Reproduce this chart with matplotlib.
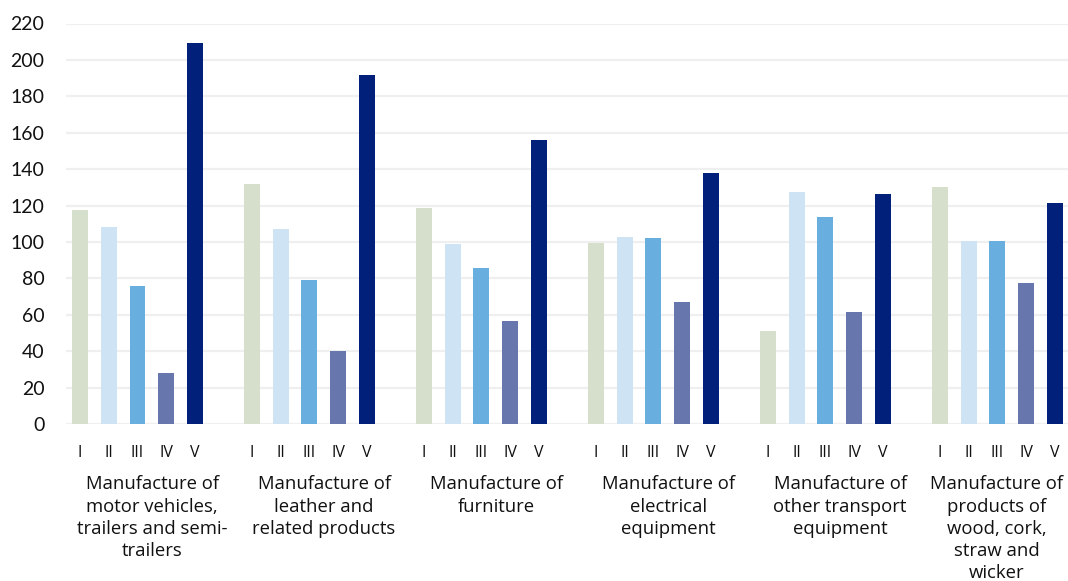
import matplotlib
matplotlib.use("Agg")
import matplotlib.pyplot as plt
import numpy as np

categories = [
    "Manufacture of\nmotor vehicles,\ntrailers and semi-\ntrailers",
    "Manufacture of\nleather and\nrelated products",
    "Manufacture of\nfurniture",
    "Manufacture of\nelectrical\nequipment",
    "Manufacture of\nother transport\nequipment",
    "Manufacture of\nproducts of\nwood, cork,\nstraw and\nwicker",
]
series_labels = ["I", "II", "III", "IV", "V"]
values_I = [117.5, 131.8, 118.6, 99.4, 51.1, 130.2]
values_II = [108.2, 107.1, 98.9, 102.7, 127.4, 100.5]
values_III = [75.8, 79.1, 85.7, 102.2, 113.7, 100.5]
values_IV = [28.0, 40.1, 56.6, 67.0, 61.5, 77.5]
values_V = [209.3, 191.7, 156.0, 137.9, 126.3, 121.4]
yticks = [0, 20, 40, 60, 80, 100, 120, 140, 160, 180, 200, 220]

series = [values_I, values_II, values_III, values_IV, values_V]
colors = ["#D5DFCC", "#CEE4F4", "#68AFDF", "#6777AD", "#00207A"]
label_shift = [0.085, 0.085, 0.085, 0.085, 0.085, -0.005]

fig = plt.figure(figsize=(10.68, 5.81), dpi=100)
ax = fig.add_axes([66 / 1068, 157 / 581, 1 - 66 / 1068, (424 - 23.5) / 581])

n = len(categories)
x = np.arange(n)
pitch = 0.1667
width = 0.093
tick_pos = []
tick_lab = []
for i, (vals, c) in enumerate(zip(series, colors)):
    pos = x + (i - 2) * pitch
    ax.bar(pos, vals, width=width, color=c, zorder=2)
    tick_pos.extend(pos)
    tick_lab.extend([series_labels[i]] * n)

ax.set_xlim(-0.4157, 5.41)
ax.set_ylim(0, 220)
ax.set_yticks(yticks)
ax.set_yticklabels([str(v) for v in yticks], family="Lato", fontsize=14, color="#111111")
ax.grid(axis="y", color="#EFEFEF", linewidth=1.6, zorder=0)
ax.set_axisbelow(True)
for s in ax.spines.values():
    s.set_visible(False)
ax.tick_params(axis="both", length=0)
ax.tick_params(axis="y", pad=15.5)
ax.set_xticks(tick_pos)
ax.set_xticklabels(tick_lab, family="Open Sans", fontsize=11.5, color="#111111")
ax.tick_params(axis="x", pad=15)

for i, cat in enumerate(categories):
    ax.annotate(cat, xy=(x[i] + label_shift[i], 0), xycoords="data",
                xytext=(0, -37), textcoords="offset points",
                ha="center", va="top", family="Open Sans", fontsize=13.3,
                color="#111111", linespacing=1.3, annotation_clip=False)

fig.savefig("out.png", dpi=100)
